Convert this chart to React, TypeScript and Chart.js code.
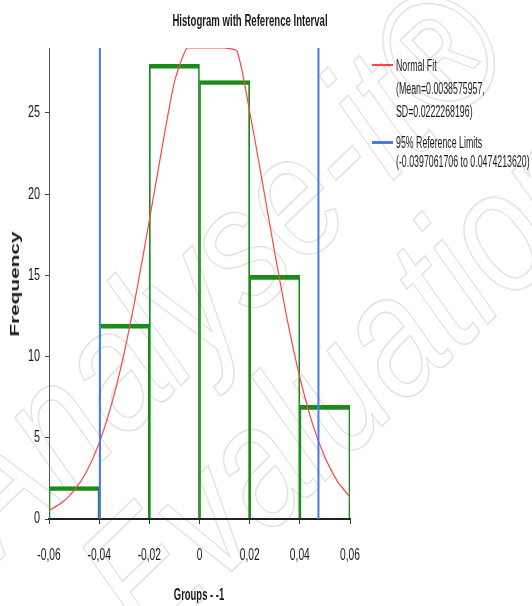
import React, { useEffect, useRef } from "react";
import { Chart, registerables } from "chart.js";

Chart.register(...registerables);

// ---- data ----
const binCenters = [-0.05, -0.03, -0.01, 0.01, 0.03, 0.05];
const frequencies = [2, 12, 28, 27, 15, 7];

const fitX = [
  -0.06, -0.055, -0.05, -0.045, -0.04, -0.035, -0.03, -0.025, -0.02, -0.015, -0.01, -0.005,
  0, 0.005, 0.01, 0.015, 0.02, 0.025, 0.03, 0.035, 0.04, 0.045, 0.05, 0.055, 0.06,
];
const fitY = [
  0.53, 0.98, 1.74, 2.92, 4.67, 7.1, 10.25, 14.09, 18.38, 22.8, 26.9, 29,
  29, 29, 29, 28.8, 25.1, 20.8, 16.4, 12.26, 8.72, 5.89, 3.8, 2.32, 1.35,
];

const lowerLimit = -0.0397061706;
const upperLimit = 0.047421362;

const xTicks = [-0.06, -0.04, -0.02, 0, 0.02, 0.04, 0.06];
const xTickLabels = ["-0,06", "-0,04", "-0,02", "0", "0,02", "0,04", "0,06"];
const yTicks = [0, 5, 10, 15, 20, 25];
const yMin = 0;
const yMax = 29;

const titleText = "Histogram with Reference Interval";
const xTitle = "Groups - -1";
const yTitle = "Frequency";
const legendFit = ["Normal Fit", "(Mean=0.0038575957,", "SD=0.0222268196)"];
const legendRef = ["95% Reference Limits", "(-0.0397061706 to 0.0474213620)"];
const watermark = ["Analyse-it®", "Evaluation"];

const GREEN = "#1a8c1a";
const RED = "#ff4545";
const BLUE = "#4a78f0";
const TEXT = "#1a1a1a";
const SANS = '"Liberation Sans", Arial, sans-serif';

// Draws the tick labels condensed (the reference uses a narrow face)
const condensedTicks = {
  id: "condensedTicks",
  afterDraw(chart: any) {
    const { ctx, scales } = chart;
    const x = scales.x;
    const y = scales.y;
    ctx.save();
    ctx.font = `16px ${SANS}`;
    ctx.fillStyle = TEXT;
    ctx.textBaseline = "middle";
    x.ticks.forEach((t: any, i: number) => {
      const px = x.getPixelForValue(t.value);
      ctx.save();
      ctx.translate(px, x.top + 37);
      ctx.scale(0.64, 1);
      ctx.textAlign = "center";
      ctx.fillText(xTickLabels[i], 0, 0);
      ctx.restore();
    });
    y.ticks.forEach((t: any) => {
      const py = y.getPixelForValue(t.value);
      ctx.save();
      ctx.translate(y.right - 9, py);
      ctx.scale(0.68, 1);
      ctx.textAlign = "right";
      ctx.fillText(String(t.value), 0, 0);
      ctx.restore();
    });
    ctx.restore();
  },
};

export default function App() {
  const ref = useRef<HTMLCanvasElement | null>(null);

  useEffect(() => {
    const ctx = ref.current;
    if (!ctx) return;
    const chart = new Chart(ctx, {
      type: "bar",
      data: {
        datasets: [
          {
            type: "line",
            label: "lower",
            data: [
              { x: lowerLimit, y: yMin },
              { x: lowerLimit, y: yMax },
            ],
            borderColor: BLUE,
            borderWidth: 2,
            pointRadius: 0,
            order: 0,
          },
          {
            type: "line",
            label: "upper",
            data: [
              { x: upperLimit, y: yMin },
              { x: upperLimit, y: yMax },
            ],
            borderColor: BLUE,
            borderWidth: 2,
            pointRadius: 0,
            order: 0,
          },
          {
            type: "line",
            label: "fit",
            data: fitX.map((x, i) => ({ x, y: fitY[i] })),
            borderColor: RED,
            borderWidth: 1.2,
            pointRadius: 0,
            tension: 0.2,
            order: 1,
          },
          {
            type: "bar",
            label: "hist",
            data: binCenters.map((x, i) => ({ x, y: frequencies[i] })),
            backgroundColor: "rgba(0,0,0,0)",
            borderColor: GREEN,
            borderWidth: { top: 4, left: 1, right: 1, bottom: 0 },
            borderSkipped: false,
            barPercentage: 1,
            categoryPercentage: 1,
            order: 2,
          },
        ],
      },
      options: {
        animation: false,
        responsive: false,
        devicePixelRatio: 1,
        layout: { padding: { left: 0, top: 48, right: 182, bottom: 0 } },
        plugins: {
          legend: { display: false },
          title: { display: false },
          tooltip: { enabled: false },
        },
        scales: {
          x: {
            type: "linear",
            min: -0.06,
            max: 0.06,
            offset: false,
            afterBuildTicks: (s: any) => {
              s.ticks = xTicks.map((v) => ({ value: v }));
            },
            afterFit: (s: any) => {
              s.height = 87;
            },
            ticks: {
              callback: (_v: any, i: number) => xTickLabels[i],
              color: "rgba(0,0,0,0)",
              font: { family: SANS, size: 14 },
              padding: 22,
              maxRotation: 0,
              autoSkip: false,
            },
            grid: {
              display: true,
              offset: false,
              drawOnChartArea: false,
              drawTicks: true,
              tickLength: 5,
              color: "#333",
            },
            border: { display: true, color: "#222", width: 2 },
          },
          y: {
            type: "linear",
            min: yMin,
            max: yMax,
            afterBuildTicks: (s: any) => {
              s.ticks = yTicks.map((v) => ({ value: v }));
            },
            afterFit: (s: any) => {
              s.width = 49;
            },
            ticks: {
              color: "rgba(0,0,0,0)",
              font: { family: SANS, size: 14 },
              padding: 5,
              autoSkip: false,
            },
            grid: {
              display: true,
              offset: false,
              drawOnChartArea: false,
              drawTicks: true,
              tickLength: 4,
              color: "#444",
            },
            border: { display: true, color: "#555", width: 1 },
          },
        },
      },
      plugins: [condensedTicks],
    } as any);
    return () => chart.destroy();
  }, []);

  const centered = (
    text: string,
    cx: number,
    cy: number,
    style: React.CSSProperties,
    transform: string
  ) => (
    <div style={{ position: "absolute", left: cx, top: cy, width: 0, height: 0 }}>
      <div
        style={{
          position: "absolute",
          left: 0,
          top: 0,
          whiteSpace: "nowrap",
          transform: `translate(-50%, -50%) ${transform}`,
          transformOrigin: "center center",
          color: TEXT,
          lineHeight: "18px",
          ...style,
        }}
      >
        {text}
      </div>
    </div>
  );

  const legendLine = (text: string, cy: number) => (
    <div
      key={text}
      style={{
        position: "absolute",
        left: 396,
        top: cy - 10,
        whiteSpace: "nowrap",
        fontFamily: SANS,
        fontSize: 16,
        lineHeight: "20px",
        color: TEXT,
        transform: "scaleX(0.55)",
        transformOrigin: "0 50%",
      }}
    >
      {text}
    </div>
  );

  return (
    <div
      style={{
        position: "absolute",
        left: 0,
        top: 0,
        width: 532,
        height: 606,
        background: "#fff",
        overflow: "hidden",
      }}
    >
      <svg
        width={532}
        height={606}
        style={{ position: "absolute", left: 0, top: 0 }}
        aria-hidden="true"
      >
        <g fill="none" stroke="#e2e2e2" strokeWidth={1.2} fontFamily={SANS} fontStyle="italic" fontSize={140}>
          <text transform="translate(0,560) rotate(-44) scale(1,1.25)">{watermark[0]}</text>
          <text transform="translate(150,650) rotate(-44) scale(1,1.25)">{watermark[1]}</text>
        </g>
      </svg>
      <canvas ref={ref} width={532} height={606} style={{ position: "absolute", left: 0, top: 0 }} />
      {centered(titleText, 250, 21, { fontFamily: SANS, fontWeight: "bold", fontSize: 16 }, "scaleX(0.6)")}
      {centered(xTitle, 199, 595, { fontFamily: SANS, fontWeight: "bold", fontSize: 16 }, "scaleX(0.59)")}
      {centered(
        yTitle,
        15,
        284,
        { fontFamily: SANS, fontWeight: "bold", fontSize: 13 },
        "rotate(-90deg) scaleX(1.6)"
      )}
      <div style={{ position: "absolute", left: 372, top: 64, width: 21, height: 2, background: RED }} />
      <div style={{ position: "absolute", left: 372, top: 141, width: 21, height: 3, background: BLUE }} />
      {legendLine(legendFit[0], 66)}
      {legendLine(legendFit[1], 89)}
      {legendLine(legendFit[2], 112)}
      {legendLine(legendRef[0], 143)}
      {legendLine(legendRef[1], 162)}
    </div>
  );
}
